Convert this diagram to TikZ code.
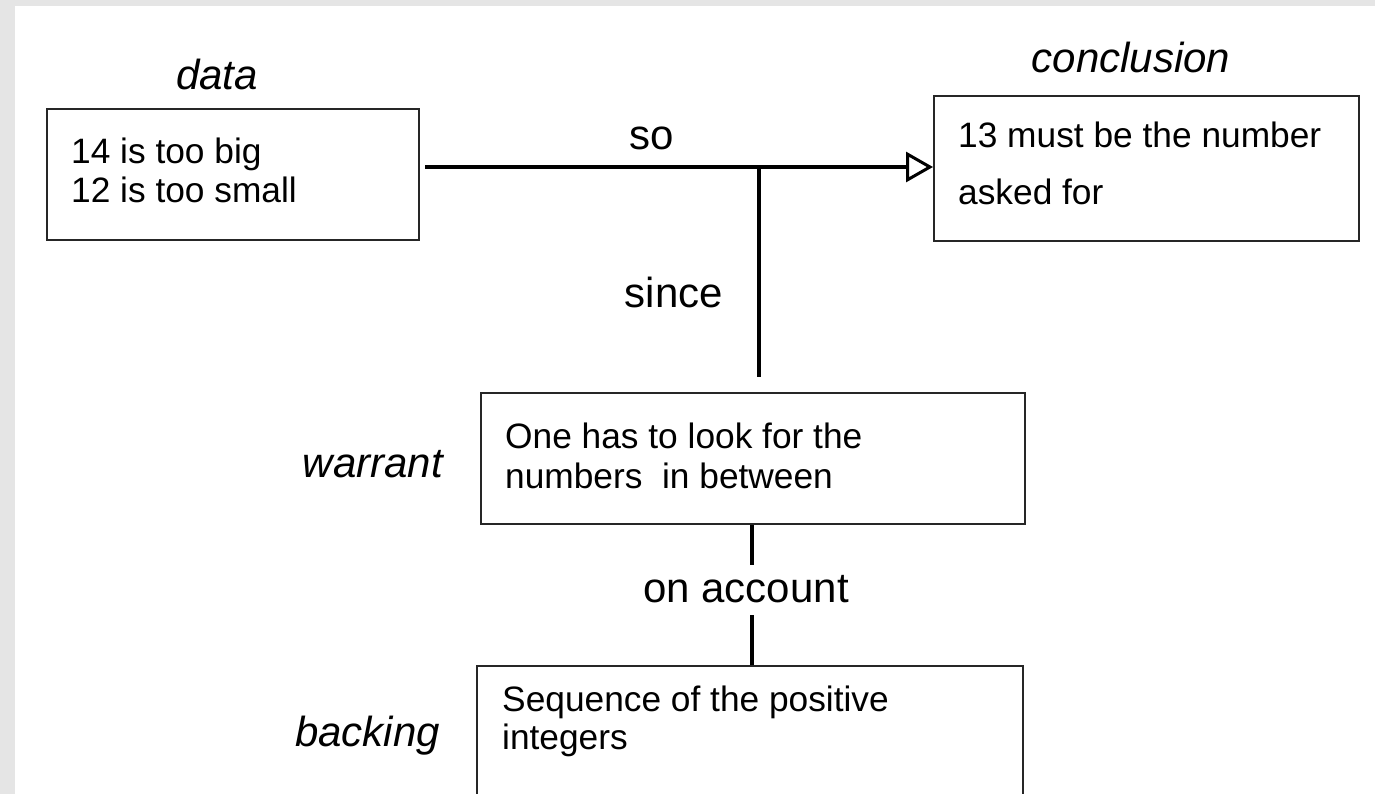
\documentclass[tikz,border=0pt]{standalone}
\usepackage{fontspec}
\setmainfont{Liberation Sans}
\usetikzlibrary{arrows.meta}
\begin{document}
\begin{tikzpicture}[x=1pt,y=-1pt,
  box/.style={draw=black!85, line width=2pt, rectangle, inner sep=0pt, anchor=north west},
  boxtext/.style={anchor=base west, inner sep=0pt, font=\fontsize{35.3}{36}\selectfont},
  tag/.style={inner sep=0pt, font=\fontsize{42}{42}\selectfont\itshape},
  link/.style={inner sep=0pt, anchor=base, font=\fontsize{42}{42}\selectfont},
  conn/.style={line width=3.5pt, black}]
\clip (0,0) rectangle (1375,794);
% page frame
\fill[black!10] (0,0) rectangle (1375,794);
\fill[white] (15,6) rectangle (1375,794);

% boxes
\node[box, minimum width=372pt, minimum height=131pt] (data) at (46,108) {};
\node[box, minimum width=425pt, minimum height=145pt] (conclusion) at (933,95) {};
\node[box, minimum width=544pt, minimum height=131pt] (warrant) at (480,392) {};
\node[box, minimum width=546pt, minimum height=200pt] (backing) at (476,665) {};

% box contents
\node[boxtext] (d1) at (71,164) {14 is too big};
\node[boxtext] (d2) at (71,203) {12 is too small};
\node[boxtext] (c1) at (958,148) {13 must be the number};
\node[boxtext] (c2) at (958,205) {asked for};
\node[boxtext] (w1) at (505,448) {One has to look for the};
\node[boxtext] (w2) at (505,488) {numbers\ \ in between};
\node[boxtext] (b1) at (502,711) {Sequence of the positive};
\node[boxtext] (b2) at (502,749) {integers};

% role labels
\node[tag, anchor=base] (ldata) at (217,90) {data};
\node[tag, anchor=base] (lconc) at (1131,73) {conclusion};
\node[tag, anchor=base east] (lwarr) at (443,477) {warrant};
\node[tag, anchor=base east] (lback) at (440,746) {backing};

% connector words
\node[link] (so) at (652,150) {so};
\node[link] (since) at (674,307) {since};
\node[link] (onacc) at (746,602) {on account};

% connectors
\coordinate (so-start) at (425,167);
\coordinate (junction) at (759,167);
\coordinate (since-end) at (759,377);
\coordinate (acc-top) at (752,565);
\coordinate (acc-bot) at (752,615);

\draw[conn, -{Triangle[open, length=27pt, width=30pt, line width=3pt]}]
  (so-start) -- (conclusion.west |- so-start);
\draw[conn] (junction) -- (since-end);
\draw[conn] (acc-top |- warrant.south) -- (acc-top);
\draw[conn] (acc-bot) -- (acc-bot |- backing.north);
\end{tikzpicture}
\end{document}
